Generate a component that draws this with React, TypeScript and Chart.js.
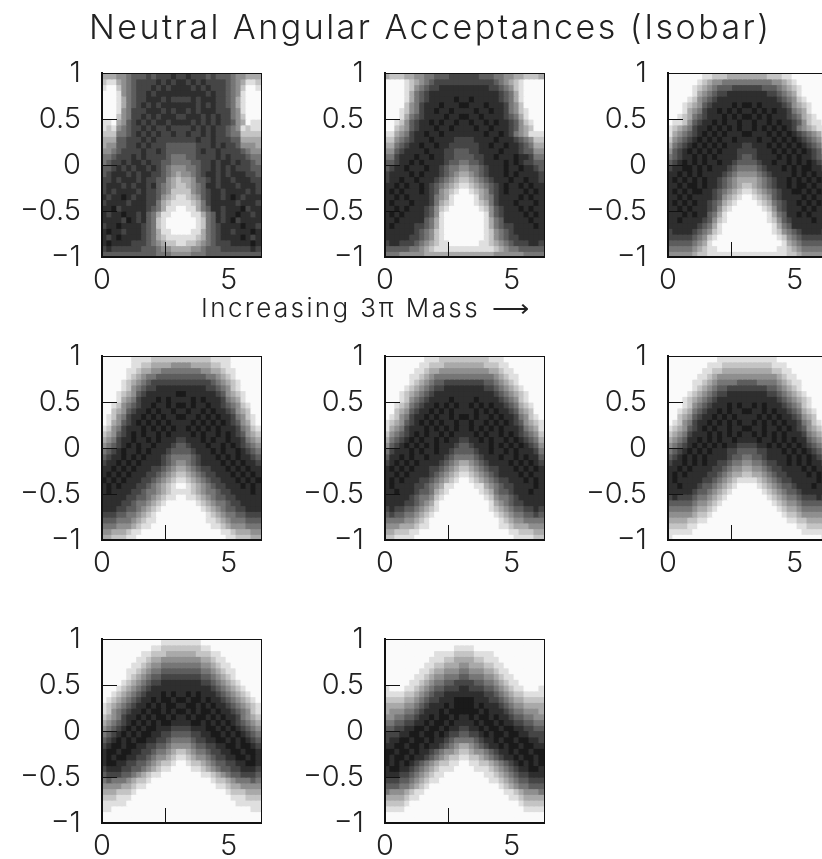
import React, { useEffect, useRef } from "react";
import { Chart, registerables } from "chart.js";

Chart.register(...registerables);

// Brightness of each histogram cell, 0 = darkest .. 9 = white. Rows run from y = +1 down to y = -1,
// columns from x = 0 to x = 2 pi (16 + 16 digits per row).
const panel1 = [
"6665543332322212 2122232333455666","7886543222212121 1212122223456887","8997543222121211 1121212223457998","9998543221211111 1111121223458999",
"9998643221112122 2212111223468999","9998643212121111 1112121223468999","9998542221112121 1212111222458999","9997542212121112 2111212122457999",
"8896532121211211 1121212122356988","8785432212122122 2212121223458788","7774432121212212 2122121223447777","6663322212122222 2221221222336666",
"6553322121222333 3332221212235556","5543222212212333 3332122122223455","4432221212222344 4332222121222344","4322121121223344 4433221211212234",
"3321212112123455 5443221212122233","3211121211223456 5543211212111223","2212111212233567 6653321211211122","2111212112134567 7654311211121112",
"2121111212234577 7754321121111212","1211012112235678 8765321121012111","2111121112246788 8876421111121112","1102111112346889 9886431121110211",
"1211011213468899 9988643121101121","1111201213478999 9998743121021111","2110111123478999 9998743211110112","1011211123468899 9988643211211101",
"1210111123467888 8887643211110121","1011112223456778 8776543222111101","2122222233345566 6655433322222212","3333333333344455 5544433333333333",
];
const panel2 = [
"6777665544333222 2223334455667776","9999876543222222 2222223456789999","9999875432211111 1111122345789999","9999864321111111 1111111234689999",
"9999864321111101 1011111234689999","9999754211101110 0111011124579999","9998754211011011 1101101124578999","9998643211110110 0110111123468999",
"9987532110101101 1011010112357899","9976532111011011 1101101112356799","8865421101101111 1111011012456888","7754321110111122 2211110111234577",
"6643211011011222 2221101101123466","5532111101112233 3221111011123355","4421110110112233 3322110111011244","3321101011112334 4332111101012233",
"3211011101123445 5443211101101123","2111101011123456 6543211101011112","2110110111234567 7654321110110112","1101011012345678 8765432101101011",
"1010111012356789 9876532101110101","1101011112456899 9986542111101011","1011101112467899 9987642111011101","1101011123578999 9998753211101011",
"1010111123589999 9999853211110101","1101111134689999 9999864311111011","1011112234689999 9999864322111101","1111112345789999 9999875432111111",
"1111122345789999 9999875432211111","2112223456788999 9998876543222112","3333344567888888 8888887654433333","4445555566666666 6666665555554444",
];
const panel3 = [
"9999999887776666 6666777889999999","9999998765544444 4444455678999999","9999987654333222 2223334567899999","9999986543221111 1111223456899999",
"9999875432111111 1111112345789999","9998765321111010 0101111235678999","9998654211010101 1010101124568999","9987643211101010 0101011123467899",
"9887532110101101 1011010112357889","8765421101010101 1010101012456788","8654321010101110 0111010101234568","7543210101011011 1101101010123457",
"6432101010101112 2111010101012346","5321010101011122 2211101010101235","4321101010111123 3211110101011234","3210101011011233 3321101101010123",
"2110010101112344 4432111010100112","1101010111123455 5543211110101011","1010101011234566 6654321101010101","1101001011234567 7654321101001011",
"1010100112345678 8765432110010101","1101011112356789 9876532111101011","1010101123467899 9987643211010101","1101011123578999 9998753211101011",
"1110101134689999 9999864311010111","1101111235789999 9999875321111011","1111112346899999 9999986431111111","2111123457899999 9999987543211112",
"2222234578999999 9999998754322222","3333345689999999 9999999865433333","4444456788999999 9999998876544444","5555567788888888 8888888877655555",
];
const panel4 = [
"9999998888777777 7777778888999999","9999998877666655 5566667788999999","9999988766554444 4444556678899999","9999987654433333 3333344567899999",
"9999876543222222 2222223456789999","9999875432211111 1111122345789999","9998765321111110 0111111235678999","9998654211101011 1101011124568999",
"9987543211011010 0101101123457899","9976532110101101 1011010112356799","9875421101010110 0110101011245789","9865321010101011 1101010101235689",
"8754211101010101 1010101011124578","7653210101101011 1101011010123567","6542110110101112 2111010110112456","5432101011011123 3211101101012345",
"4321011010111233 3321110101101234","3211010101112344 4432111010101123","2110101011112345 5432111101010112","1101010111223456 6543221110101011",
"1010101112234567 7654322111010101","0101011122345678 8765432211101010","1010111223456789 9876543221110101","1011112234456788 8876544322111101",
"1111122334567889 9887654332211111","1111223445678999 9998765443221111","1112233456789999 9999876543322111","2223344567899999 9999987654433222",
"3334445678899999 9999988765444333","4445556788999999 9999998876555444","5566678899999999 9999999988766655","6677788999999999 9999999998877766",
];
const panel5 = [
"9999999988877777 7777788899999999","9999999887776666 6666777889999999","9999998876655555 5555566788999999","9999988765444444 4444445678899999",
"9999987654332222 2222334567899999","9999876543221111 1111223456789999","9998765432111111 1111112345678999","9998754321111011 1101111234578999",
"9987643211010101 1010101123467899","9976532110101011 1101010112356799","9875421101011010 0101101011245789","8765321010101101 1011010101235678",
"8654211101010101 1010101011124568","7543210101101011 1101011010123457","6432101011010112 2110101101012346","5321010101011123 3211101010101235",
"4211101011011233 3321101101011124","3110101101112344 4432111011010113","2101010111123456 6543211110101012","1010101112234567 7654322111010101",
"1101011112345678 8765432111101011","1010111223456789 9876543221110101","1011112234568899 9988654322111101","1101112334678999 9998764332111011",
"1111123445789999 9999875443211111","1111223456899999 9999986543221111","2122334567899999 9999987654332212","3233445678999999 9999998765443323",
"4444556789999999 9999999876554444","5556667889999999 9999999887666555","6677788999999999 9999999998877766","7788889999999999 9999999999888877",
];
const panel6 = [
"9999999999888888 8888889999999999","9999999988877777 7777788899999999","9999999887766666 6666677889999999","9999998876555555 5555556788999999",
"9999988765444433 3344445678899999","9999987654332222 2222334567899999","9999876543221111 1111223456789999","9998765432111111 1111112345678999",
"9998754321110101 1010111234578999","9987643211010110 0110101123467899","9976532110101011 1101010112356799","9875421101010101 1010101011245789",
"8765321010110110 0110110101235678","7654211101010101 1010101011124567","6543110101011011 1101101010113456","5432101010101122 2211010101012345",
"4321010101112233 3322111010101234","3210101011112334 4332111101010123","2110101011223445 5443221101010112","1101011112234556 6554322111101011",
"1010111122345667 7665432211110101","1011111223456788 8876543221111101","1101112334567899 9987654332111011","1111123345678999 9998765433211111",
"2122234456789999 9999876544322212","3333345567899999 9999987655433333","4444456678999999 9999998766544444","5555567789999999 9999999877655555",
"6666778899999999 9999999988776666","7777889999999999 9999999999887777","8888899999999999 9999999999988888","8999999999999999 9999999999999998",
];
const panel7 = [
"9999999999998888 8888999999999999","9999999999887777 7777889999999999","9999999988777666 6667778899999999","9999999887665555 5555667889999999",
"9999998876554444 4444556788999999","9999988765443333 3333445678899999","9999987654332222 2222334567899999","9999876543221111 1111223456789999",
"9998765432111111 1111112345678999","9987654321110101 1010111234567899","9876543211010010 0100101123456789","8765432110101001 1001010112345678",
"8754321101001010 0101001011234578","7654211010100101 1010010101124567","6543210101010011 1100101010123456","5432101010011122 2211100101012345",
"4321010100112233 3322110010101234","3210101001122344 4432211001010123","2100100112233455 5543322110010012","1001001122344567 7654432211001001",
"1010011223455678 8765543221100101","1001122334567789 9877654332211001","2111223345678899 9988765433221112","3222334567889999 9999887654332223",
"4344456778999999 9999998776544434","5555667889999999 9999999887665555","6667778999999999 9999999998777666","7778889999999999 9999999999888777",
"8888899999999999 9999999999988888","8899999999999999 9999999999999988","9999999999999999 9999999999999999","9999999999999999 9999999999999999",
];
const panel8 = [
"9999999999999999 9999999999999999","9999999999999988 8899999999999999","9999999999888877 7788889999999999","9999999998887766 6677888999999999",
"9999999988776665 5666778899999999","9999999887665554 4555667889999999","9999998876554443 3444556788999999","9999988765443322 2233445678899999",
"8999887654332221 1222334567889998","8888776543221111 1111223456778888","7777665432211100 0011122345667777","6666554321110100 0010111234556666",
"6555443211101000 0001011123445556","5544332110100101 1010010112334455","4433221101001011 1101001011223344","3322110010010112 2110100100112233",
"2221100100101223 3221010010011222","2110010010112344 4432110100100112","1100100101123456 6543211010010011","0010010112345567 7655432110100100",
"0100101123456778 8776543211010010","0101012345677889 9887765432101010","1001123456788899 9988876543211001","1112234567889999 9999887654322111",
"2223345678899999 9999988765433222","3334456789999999 9999999876544333","4555678899999999 9999999988765554","6666788999999999 9999999998876666",
"7777899999999999 9999999999987777","8888999999999999 9999999999998888","9999999999999999 9999999999999999","9999999999999999 9999999999999999",
];

const panels = [panel1, panel2, panel3, panel4, panel5, panel6, panel7, panel8];
const panelLeft = [102, 385, 668];
const panelTop = [73, 356, 639];
const PANEL_W = 159;
const PANEL_H = 184;
const MARGIN_L = 100;
const MARGIN_T = 30;
const MARGIN_R = 5;
const MARGIN_B = 45;
const X_MAX = 2 * Math.PI;
const FONT = "Inter";

const grey = (d: number) => {
  const v = Math.round(26 + 224 * Math.pow(d / 9, 1.1));
  return `rgb(${v},${v},${v})`;
};

const tickText = (v: number | string) => String(v).replace("-", "\u2212");

function Panel({ rows, left, top }: { rows: string[]; left: number; top: number }) {
  const ref = useRef<HTMLCanvasElement>(null);
  useEffect(() => {
    const cells = rows.map((r) => r.replace(/\s/g, "").split("").map(Number));
    const nRows = cells.length;
    const nCols = cells[0].length;
    const datasets = cells.map((row, ri) => {
      const hi = 1 - (2 * ri) / nRows;
      const lo = 1 - (2 * (ri + 1)) / nRows;
      return {
        data: row.map((_, ci) => ({ x: ((ci + 0.5) * X_MAX) / nCols, y: [lo, hi] })),
        backgroundColor: row.map(grey),
        borderWidth: 0,
        inflateAmount: 0.6,
        grouped: false,
        barPercentage: 1,
        categoryPercentage: 1,
      };
    });
    const fix = (w?: number, h?: number) => (s: any) => {
      if (w !== undefined) s.width = w;
      if (h !== undefined) s.height = h;
      s.paddingTop = 0;
      s.paddingBottom = 0;
      s.paddingLeft = 0;
      s.paddingRight = 0;
    };
    const chart = new Chart(ref.current!, {
      type: "bar",
      data: { datasets: datasets as any },
      options: {
        animation: false,
        responsive: false,
        layout: { padding: 0 },
        plugins: { legend: { display: false }, tooltip: { enabled: false } },
        scales: {
          x: {
            type: "linear",
            position: "bottom",
            min: 0,
            max: X_MAX,
            offset: false,
            afterFit: fix(undefined, MARGIN_B),
            border: { color: "#111", width: 2, z: 3 },
            grid: { drawOnChartArea: false, drawTicks: true, tickLength: -15, color: "#111", lineWidth: 1, z: 2 },
            ticks: {
              stepSize: 5,
              includeBounds: false,
              autoSkip: false,
              maxRotation: 0,
              padding: 21,
              color: "#222",
              font: { family: FONT, size: 29, weight: "300" },
            },
          },
          y: {
            type: "linear",
            position: "left",
            min: -1,
            max: 1,
            afterFit: fix(MARGIN_L),
            border: { color: "#111", width: 2, z: 3 },
            grid: { drawOnChartArea: false, drawTicks: true, tickLength: -15, color: "#111", lineWidth: 1, z: 2 },
            ticks: {
              stepSize: 0.5,
              autoSkip: false,
              padding: 36,
              color: "#222",
              font: { family: FONT, size: 29, weight: "300" },
              callback: (v: any) => tickText(v),
            },
          },
          xTop: {
            type: "linear",
            position: "top",
            min: 0,
            max: X_MAX,
            afterFit: fix(undefined, MARGIN_T),
            border: { color: "#111", width: 1, z: 3 },
            grid: { drawOnChartArea: false, drawTicks: false },
            ticks: { display: false },
          },
          yRight: {
            type: "linear",
            position: "right",
            min: -1,
            max: 1,
            afterFit: fix(MARGIN_R),
            border: { color: "#111", width: 1, z: 3 },
            grid: { drawOnChartArea: false, drawTicks: false },
            ticks: { display: false },
          },
        } as any,
      },
    });
    return () => chart.destroy();
  }, [rows]);
  return (
    <canvas
      ref={ref}
      width={MARGIN_L + PANEL_W + MARGIN_R}
      height={MARGIN_T + PANEL_H + MARGIN_B}
      style={{ position: "absolute", left: left - MARGIN_L, top: top - MARGIN_T }}
    />
  );
}

const labelStyle: React.CSSProperties = {
  position: "absolute",
  fontFamily: FONT,
  fontWeight: 300,
  color: "#222",
  whiteSpace: "nowrap",
};

export default function App() {
  return (
    <div style={{ position: "fixed", left: 0, top: 0, width: 822, height: 859, overflow: "hidden", background: "#fff" }}>
      {panels.map((rows, i) => (
        <Panel key={i} rows={rows} left={panelLeft[i % 3]} top={panelTop[Math.floor(i / 3)]} />
      ))}
      <div style={{ ...labelStyle, left: 89, top: 4, fontSize: 34, letterSpacing: 2.47, lineHeight: "46px" }}>
        Neutral Angular Acceptances (Isobar)
      </div>
      <div style={{ ...labelStyle, left: 201, top: 292, fontSize: 26, letterSpacing: 2.4, lineHeight: "32px" }}>
        Increasing 3π Mass <span style={{ fontFamily: "DejaVu Sans", marginLeft: 2 }}>⟶</span>
      </div>
    </div>
  );
}
